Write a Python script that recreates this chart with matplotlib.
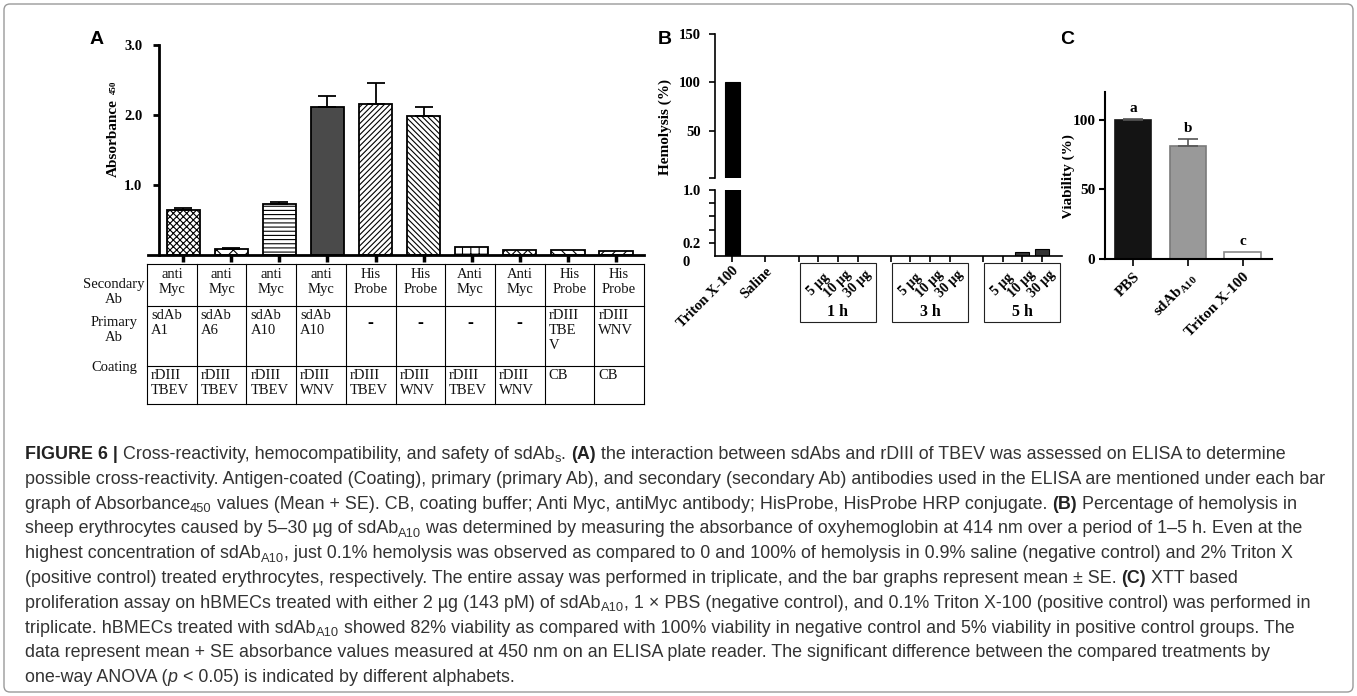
import matplotlib
matplotlib.use('Agg')
import matplotlib.pyplot as plt
from matplotlib.patches import Rectangle, FancyBboxPatch
from matplotlib.transforms import blended_transform_factory
import numpy as np

W, H = 1357, 696

# ---- panel A: ELISA absorbance (mean + SE)
elisa_vals = [0.64, 0.085, 0.73, 2.11, 2.16, 1.99, 0.11, 0.07, 0.07, 0.06]
elisa_err = [0.03, 0.01, 0.03, 0.16, 0.30, 0.12, 0, 0, 0, 0]
secondary_ab = ['anti\nMyc'] * 4 + ['His\nProbe'] * 2 + ['Anti\nMyc'] * 2 + ['His\nProbe'] * 2
primary_ab = ['sdAb\nA1', 'sdAb\nA6', 'sdAb\nA10', 'sdAb\nA10', '-', '-', '-', '-',
              'rDIII\nTBE\nV', 'rDIII\nWNV']
coating = ['rDIII\nTBEV', 'rDIII\nTBEV', 'rDIII\nTBEV', 'rDIII\nWNV', 'rDIII\nTBEV',
           'rDIII\nWNV', 'rDIII\nTBEV', 'rDIII\nWNV', 'CB', 'CB']
row_names = ['Secondary\nAb', 'Primary\nAb', 'Coating']

# ---- panel B: hemolysis (%)
controls = ['Triton X-100', 'Saline']
control_vals = [100, 0]
doses = ['5 µg', '10 µg', '30 µg']
times = ['1 h', '3 h', '5 h']
hemo_1h = [0, 0, 0]
hemo_3h = [0, 0, 0]
hemo_5h = [0.005, 0.06, 0.10]

# ---- panel C: viability (%)
viab_labels = ['PBS', r'sdAb$_{\mathrm{A10}}$', 'Triton X-100']
viab_vals = [100, 81.5, 5.2]
viab_err = [0.5, 4.5, 0]
viab_letters = ['a', 'b', 'c']

caption = [
    [('FIGURE 6 |', 'b'), (' Cross-reactivity, hemocompatibility, and safety of sdAb', ''), ('s', 'sub'),
     ('. ', ''), ('(A)', 'b'),
     (' the interaction between sdAbs and rDIII of TBEV was assessed on ELISA to determine', '')],
    [('possible cross-reactivity. Antigen-coated (Coating), primary (primary Ab), and secondary (secondary Ab) '
      'antibodies used in the ELISA are mentioned under each bar', '')],
    [('graph of Absorbance', ''), ('450', 'sub'),
     (' values (Mean + SE). CB, coating buffer; Anti Myc, antiMyc antibody; HisProbe, HisProbe HRP conjugate. ', ''),
     ('(B)', 'b'), (' Percentage of hemolysis in', '')],
    [('sheep erythrocytes caused by 5–30 µg of sdAb', ''), ('A10', 'sub'),
     (' was determined by measuring the absorbance of oxyhemoglobin at 414 nm over a period of 1–5 h. Even at the', '')],
    [('highest concentration of sdAb', ''), ('A10', 'sub'),
     (', just 0.1% hemolysis was observed as compared to 0 and 100% of hemolysis in 0.9% saline (negative control) '
      'and 2% Triton X', '')],
    [('(positive control) treated erythrocytes, respectively. The entire assay was performed in triplicate, and the '
      'bar graphs represent mean ± SE. ', ''), ('(C)', 'b'), (' XTT based', '')],
    [('proliferation assay on hBMECs treated with either 2 µg (143 pM) of sdAb', ''), ('A10', 'sub'),
     (', 1 × PBS (negative control), and 0.1% Triton X-100 (positive control) was performed in', '')],
    [('triplicate. hBMECs treated with sdAb', ''), ('A10', 'sub'),
     (' showed 82% viability as compared with 100% viability in negative control and 5% viability in positive '
      'control groups. The', '')],
    [('data represent mean + SE absorbance values measured at 450 nm on an ELISA plate reader. The significant '
      'difference between the compared treatments by', '')],
    [('one-way ANOVA (', ''), ('p', 'i'), (' < 0.05) is indicated by different alphabets.', '')],
]

plt.rcParams['mathtext.fontset'] = 'custom'
plt.rcParams['mathtext.rm'] = 'Liberation Serif:bold'
plt.rcParams['mathtext.bf'] = 'Liberation Serif:bold'
plt.rcParams['hatch.linewidth'] = 0.8

SERIF = 'Liberation Serif'
SANS = 'Liberation Sans'

fig = plt.figure(figsize=(W / 100, H / 100), dpi=100)
ov = fig.add_axes([0, 0, 1, 1])
ov.set_xlim(0, W)
ov.set_ylim(H, 0)
ov.axis('off')


def px_axes(x0, y0, x1, y1):
    return fig.add_axes([x0 / W, 1 - y1 / H, (x1 - x0) / W, (y1 - y0) / H])


def bold_ticks(ax, size=10):
    for lab in ax.get_xticklabels() + ax.get_yticklabels():
        lab.set_fontfamily(SERIF)
        lab.set_fontweight('bold')
        lab.set_fontsize(size)


# border of the figure
ov.add_patch(FancyBboxPatch((4, 4), W - 8, H - 8, boxstyle='round,pad=0,rounding_size=6',
                            ec='#9a9a9a', fc='none', lw=1))

# ================= panel A
axA = px_axes(148, 45, 644, 255)
xa = np.arange(len(elisa_vals))
hatches = ['xxxxx', 'xx', '----', None, '//////', '\\\\\\\\\\\\', '++', 'xxx', '\\\\\\', '///']
bars = axA.bar(xa, elisa_vals, width=0.69, color='white', edgecolor='black', linewidth=1.3)
for b, h in zip(bars, hatches):
    if h is None:
        b.set_facecolor('#4a4a4a')
    else:
        b.set_hatch(h)
err = np.array(elisa_err)
m = err > 0
axA.errorbar(xa[m], np.array(elisa_vals)[m], yerr=[np.zeros(m.sum()), err[m]], fmt='none',
             ecolor='black', elinewidth=1.3, capsize=6.5, capthick=1.3)
axA.set_xlim(-0.73, 9.58)
axA.set_ylim(0, 3)
for s in ['top', 'right']:
    axA.spines[s].set_visible(False)
axA.spines['left'].set_position(('axes', 11 / 496))
axA.spines['left'].set_linewidth(2)
axA.spines['bottom'].set_linewidth(2)
axA.set_yticks([1, 2, 3])
axA.set_yticklabels(['1.0', '2.0', '3.0'])
axA.set_xticks(xa)
axA.set_xticklabels([])
axA.tick_params(axis='y', length=4, width=2, pad=8)
axA.tick_params(axis='x', length=5, width=2.5)
bold_ticks(axA, 10.5)
ov.text(113, 138, 'Absorbance', rotation=90, ha='center', va='center', family=SERIF,
        fontweight='bold', fontsize=11)
ov.text(114, 87, '450', rotation=90, ha='center', va='center', family=SERIF,
        fontweight='bold', fontsize=6.5)
ov.text(97, 40, 'A', ha='center', va='center', family=SANS, fontweight='bold', fontsize=14)

# table under panel A
col_x = np.linspace(147, 644, len(elisa_vals) + 1)
row_y = [264, 306, 366, 404]
for x in col_x:
    ov.plot([x, x], [row_y[0], row_y[-1]], color='black', lw=0.8)
for y in row_y:
    ov.plot([col_x[0], col_x[-1]], [y, y], color='black', lw=0.8)
tfont = dict(family=SERIF, fontsize=10.5, color='#111111', linespacing=1.2)
for i in range(len(elisa_vals)):
    cx = (col_x[i] + col_x[i + 1]) / 2
    ov.text(cx, 268, secondary_ab[i], ha='center', va='top', **tfont)
    if primary_ab[i] == '-':
        ov.text(cx, 323, '-', ha='center', va='center', family=SERIF, fontsize=13, fontweight='bold')
    else:
        ov.text(col_x[i] + 4, 309, primary_ab[i], ha='left', va='top', **tfont)
    ov.text(col_x[i] + 4, 369, coating[i], ha='left', va='top', **tfont)
ov.text(114, 292, row_names[0], ha='center', va='center', **tfont)
ov.text(114, 330, row_names[1], ha='center', va='center', **tfont)
ov.text(114, 367, row_names[2], ha='center', va='center', **tfont)

# ================= panel B (broken axis)
axBt = px_axes(715, 34, 1062, 178)
axBb = px_axes(715, 190, 1062, 256)
ctrl_x = [0, 1.7]
group_c = [5.4, 10.1, 14.8]
blank_x = [c - 2.0 for c in group_c]
group_x = [[c - 1, c, c + 1] for c in group_c]
group_vals = [hemo_1h, hemo_3h, hemo_5h]
for ax in (axBt, axBb):
    ax.bar(ctrl_x, control_vals, width=0.77, color='black', edgecolor='black', linewidth=0.8)
    for gx, gv in zip(group_x, group_vals):
        ax.bar(gx, gv, width=0.72, color='#333333', edgecolor='black', linewidth=0.8)
    ax.set_xlim(-0.87, 16.83)
    for s in ['top', 'right']:
        ax.spines[s].set_visible(False)
    ax.spines['left'].set_linewidth(1.2)
    ax.tick_params(axis='y', length=4, width=1.2, pad=6)
axBt.set_ylim(1, 150)
axBt.spines['bottom'].set_visible(False)
axBt.set_xticks([])
axBt.set_yticks([1, 50, 100, 150])
axBt.set_yticklabels(['', '50', '100', '150'])
axBb.set_ylim(0, 1)
axBb.spines['bottom'].set_linewidth(1.2)
axBb.set_yticks([0.2, 0.4, 0.6, 0.8, 1.0])
axBb.set_yticklabels(['0.2', '', '', '', '1.0'])
all_ticks = ctrl_x + blank_x + [p for gx in group_x for p in gx]
axBb.set_xticks(all_ticks)
axBb.set_xticklabels(controls + [''] * (len(all_ticks) - 2))
axBb.tick_params(axis='x', length=4, width=1.2, pad=2)
bold_ticks(axBt, 10.5)
bold_ticks(axBb, 10.5)
for lab in axBb.get_xticklabels():
    lab.set_rotation(45)
    lab.set_ha('right')
    lab.set_va('top')
    lab.set_rotation_mode('anchor')
    lab.set_fontsize(10.5)
ov.text(686, 263, '0', ha='center', va='center', family=SERIF, fontweight='bold', fontsize=10.5)
ov.text(665, 127, 'Hemolysis (%)', rotation=90, ha='center', va='center', family=SERIF,
        fontweight='bold', fontsize=11)
ov.text(665, 39, 'B', ha='center', va='center', family=SANS, fontweight='bold', fontsize=14)

trB = blended_transform_factory(axBb.transData, ov.transData)
for c, gx, t in zip(group_c, group_x, times):
    ov.add_patch(Rectangle((c - 1.93, 263), 3.86, 59, transform=trB, fill=False, ec='#222222', lw=0.8))
    for p, d in zip(gx, doses):
        ov.text(p, 284, d, transform=trB, rotation=45, ha='center', va='center', family=SERIF,
                fontweight='bold', fontsize=10)
    ov.text(c, 312, t, transform=trB, ha='center', va='center', family=SERIF,
            fontweight='bold', fontsize=11.5)

# ================= panel C
axC = px_axes(1105, 92, 1272, 259)
xc = np.arange(len(viab_vals))
axC.bar(xc, viab_vals, width=0.67, color=['#141414', '#999999', 'white'],
        edgecolor=['#141414', '#7a7a7a', '#8a8a8a'], linewidth=1.2)
cm = np.array(viab_err) > 0
axC.errorbar(xc[cm], np.array(viab_vals)[cm], yerr=[np.zeros(cm.sum()), np.array(viab_err)[cm]],
             fmt='none', ecolor='#555555', elinewidth=1.2, capsize=7, capthick=1.2)
for x, v, e, l in zip(xc, viab_vals, viab_err, viab_letters):
    axC.annotate(l, (x, v + e), xytext=(0, 7.5), textcoords='offset points', ha='center', va='center',
                 family=SERIF, fontweight='bold', fontsize=11)
axC.set_xlim(-0.51, 2.53)
axC.set_ylim(0, 120)
for s in ['top', 'right']:
    axC.spines[s].set_visible(False)
axC.spines['left'].set_linewidth(1.5)
axC.spines['bottom'].set_linewidth(1.5)
axC.set_yticks([0, 50, 100])
axC.set_xticks(xc)
axC.set_xticklabels(viab_labels)
axC.tick_params(axis='y', length=4, width=1.5, pad=3)
axC.tick_params(axis='x', length=5, width=1.2, pad=3)
bold_ticks(axC, 11)
for lab in axC.get_xticklabels():
    lab.set_rotation(45)
    lab.set_ha('right')
    lab.set_va('top')
    lab.set_rotation_mode('anchor')
ov.text(1068, 177, 'Viability (%)', rotation=90, ha='center', va='center', family=SERIF,
        fontweight='bold', fontsize=11)
ov.text(1067, 40, 'C', ha='center', va='center', family=SANS, fontweight='bold', fontsize=14)

# ================= caption, drawn piece by piece so bold and subscripts line up
renderer = fig.canvas.get_renderer()
CAP_FS = 12.9
cap_y = 459
for line in caption:
    x = 25
    for txt, style in line:
        kw = dict(family=SANS, fontsize=CAP_FS, color='#333333', va='baseline', ha='left')
        yy = cap_y
        if style == 'b':
            kw['fontweight'] = 'bold'
            kw['color'] = '#222222'
        elif style == 'i':
            kw['fontstyle'] = 'italic'
        elif style == 'sub':
            kw['fontsize'] = CAP_FS * 0.72
            yy = cap_y + 3.5
        t = ov.text(x, yy, txt, **kw)
        x += t.get_window_extent(renderer).width
    cap_y += 24.8

fig.savefig('out.png', dpi=100)
